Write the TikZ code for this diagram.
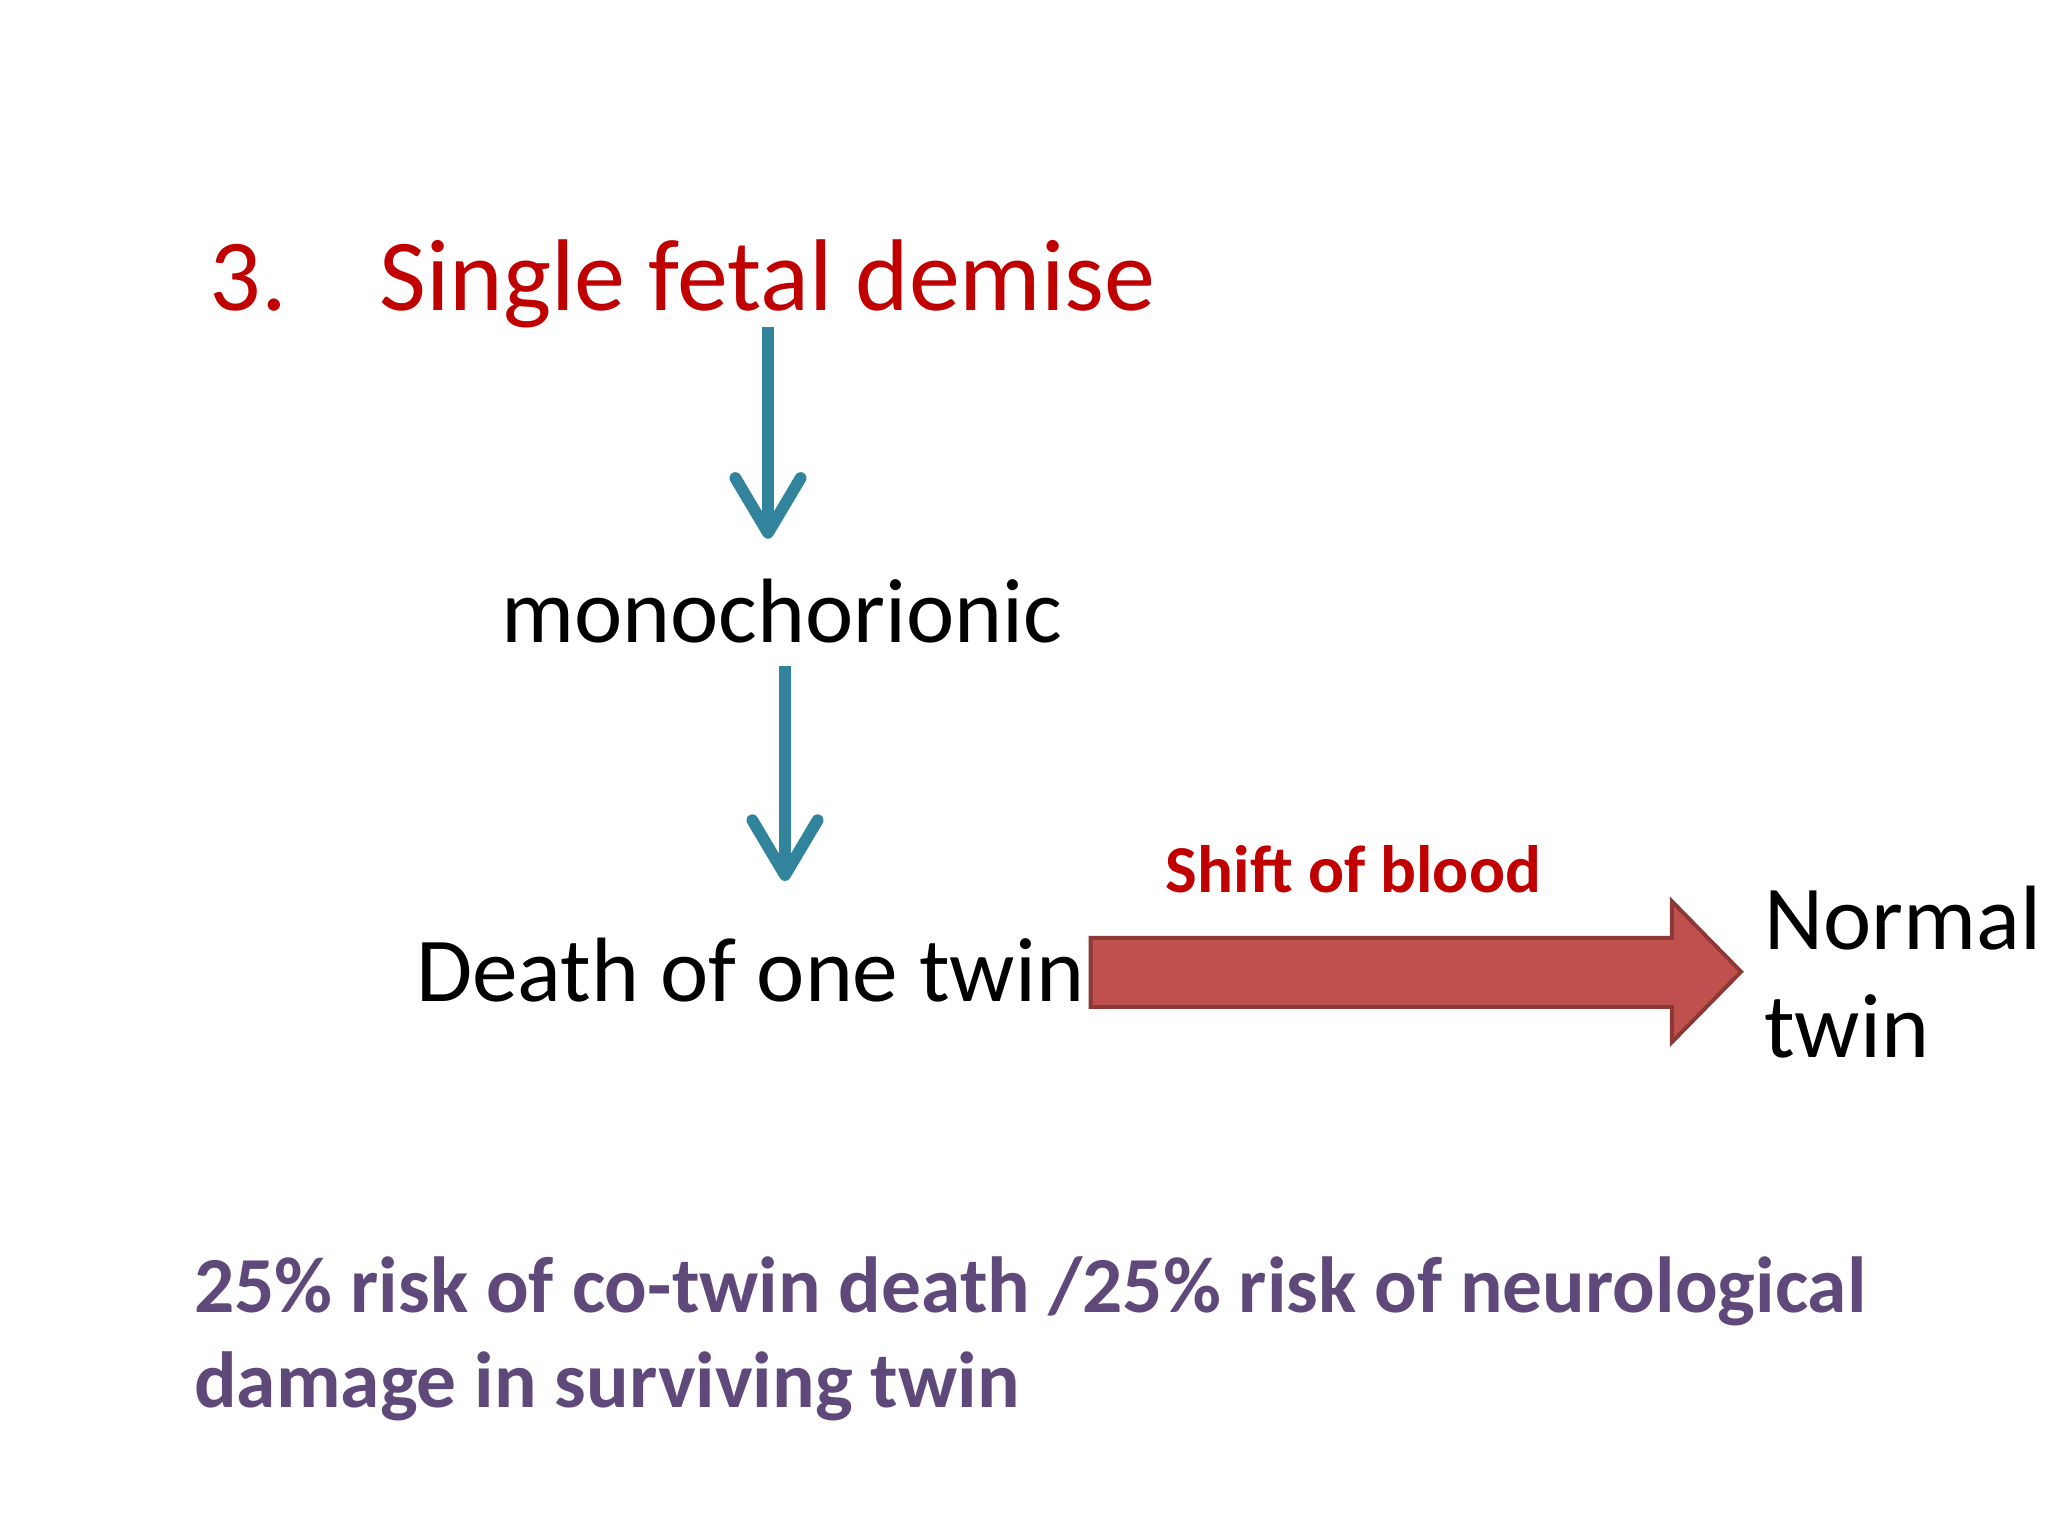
\documentclass[tikz,border=0pt]{standalone}
\usepackage{fontspec}
\setmainfont{Carlito}
\usetikzlibrary{shapes.arrows}
\definecolor{teal1}{HTML}{31849B}
\definecolor{red1}{HTML}{C00000}
\definecolor{purp}{HTML}{5F497A}
\definecolor{blk}{HTML}{C0504D}
\definecolor{blkd}{HTML}{8C3836}
\tikzset{lbl/.style={anchor=base west,inner sep=0pt},
 tarrow/.style={draw=teal1,line width=0.09cm,line cap=butt}}
\begin{document}
\begin{tikzpicture}[x=0.01cm,y=-0.01cm]
\useasboundingbox (0,0) rectangle (1568,1176);
\node[lbl,text=red1,font=\fontsize{22.2}{27}\selectfont] (n3) at (160,238) {3.};
\node[lbl,text=red1,font=\fontsize{22.2}{27}\selectfont] (title) at (290,238) {Single fetal demise};
\node[lbl,font=\fontsize{19.9}{25}\selectfont] (mono) at (383,492) {monochorionic};
\node[lbl,font=\fontsize{19.9}{25}\selectfont] (death) at (318,767) {Death of one twin};
\node[lbl,text=red1,font=\bfseries\fontsize{14.6}{17}\selectfont] (shift) at (892,683) {Shift of blood};
\node[lbl,font=\fontsize{19.9}{25}\selectfont] (normal) at (1350,727) {Normal};
\node[lbl,font=\fontsize{19.9}{25}\selectfont] (twin) at (1350,810) {twin};
\node[lbl,text=purp,font=\bfseries\fontsize{17.3}{21}\selectfont] (b1) at (148,1005) {25\% risk of co-twin death /25\% risk of neurological};
\node[lbl,text=purp,font=\bfseries\fontsize{17.3}{21}\selectfont] (b2) at (148,1078) {damage in surviving twin};
\coordinate (a1s) at (588,250); \coordinate (a1e) at (588,408);
\draw[tarrow] (a1s) -- (a1e);
\draw[tarrow,line join=round,line cap=round] (563,366) -- (a1e) -- (613,366);
\coordinate (a2s) at (601,510); \coordinate (a2e) at (601,670);
\draw[tarrow] (a2s) -- (a2e);
\draw[tarrow,line join=round,line cap=round] (576,628) -- (a2e) -- (626,628);
\draw[fill=blk,draw=blkd,line width=0.03cm,line join=miter]
 (835,718) -- (1280,718) -- (1280,690) -- (1333,744) -- (1280,798) -- (1280,771) -- (835,771) -- cycle;
\end{tikzpicture}
\end{document}
